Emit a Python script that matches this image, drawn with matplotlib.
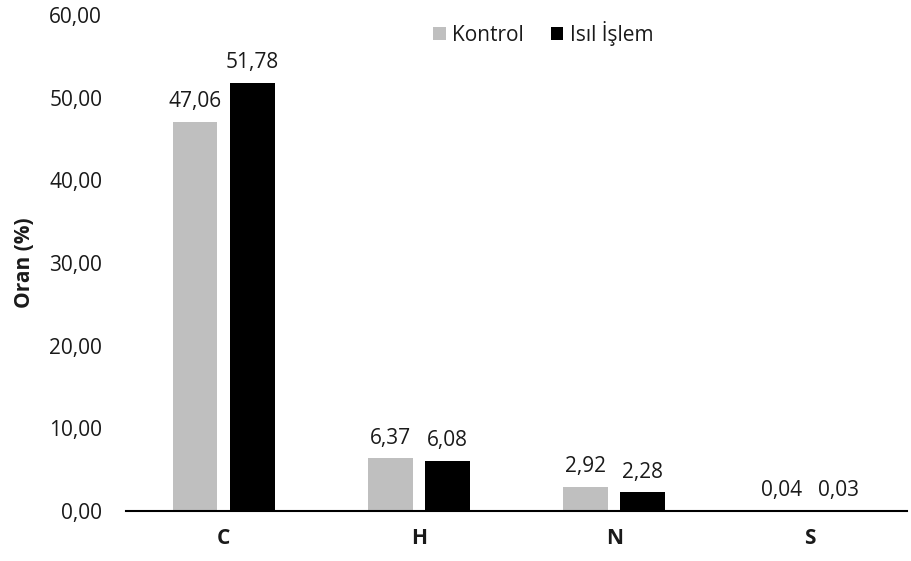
import numpy as np
import matplotlib.pyplot as plt
from matplotlib.ticker import FuncFormatter

plt.rcParams['font.family'] = ['Open Sans', 'DejaVu Sans']

categories = ['C', 'H', 'N', 'S']
kontrol = [47.06, 6.37, 2.92, 0.04]
isil_islem = [51.78, 6.08, 2.28, 0.03]
series_names = ['Kontrol', 'Isıl İşlem']
colors = ['#BFBFBF', '#000000']
txt = '#1a1a1a'
fs = 15

fig = plt.figure(figsize=(9.12, 5.61), dpi=100)
ax = fig.add_axes([0.138, 0.089, 0.857, 0.884])

x = np.arange(len(categories))
w = 0.23
off = 0.146
b1 = ax.bar(x - off, kontrol, w, color=colors[0], label=series_names[0])
b2 = ax.bar(x + off, isil_islem, w, color=colors[1], label=series_names[1])

for bars in (b1, b2):
    for rect in bars:
        h = rect.get_height()
        ax.annotate(f'{h:.2f}'.replace('.', ','), (rect.get_x() + rect.get_width() / 2, h),
                    xytext=(0, 7), textcoords='offset points', ha='center', va='bottom',
                    fontsize=fs, color=txt)

ax.set_xlim(-0.5, 3.5)
ax.set_ylim(0, 60)
ax.set_yticks(np.arange(0, 61, 10))
ax.yaxis.set_major_formatter(FuncFormatter(lambda v, p: f'{v:.2f}'.replace('.', ',')))
ax.set_xticks(x)
ax.set_xticklabels(categories, fontweight='bold')
ax.tick_params(axis='both', length=0, labelsize=fs, colors=txt)
ax.tick_params(axis='x', pad=12)
ax.tick_params(axis='y', pad=17)

for s in ['top', 'right', 'left']:
    ax.spines[s].set_visible(False)
ax.spines['bottom'].set_linewidth(1.5)

ax.set_ylabel('Oran (%)', fontweight='bold', fontsize=fs, color=txt, labelpad=10)

leg = ax.legend(loc='center', bbox_to_anchor=(0.534, 0.964), ncol=2, frameon=False,
                handlelength=0.6, handleheight=0.6, handletextpad=0.3, columnspacing=1.3,
                fontsize=fs)
for t in leg.get_texts():
    t.set_color(txt)

fig.savefig('out.png', dpi=100)
